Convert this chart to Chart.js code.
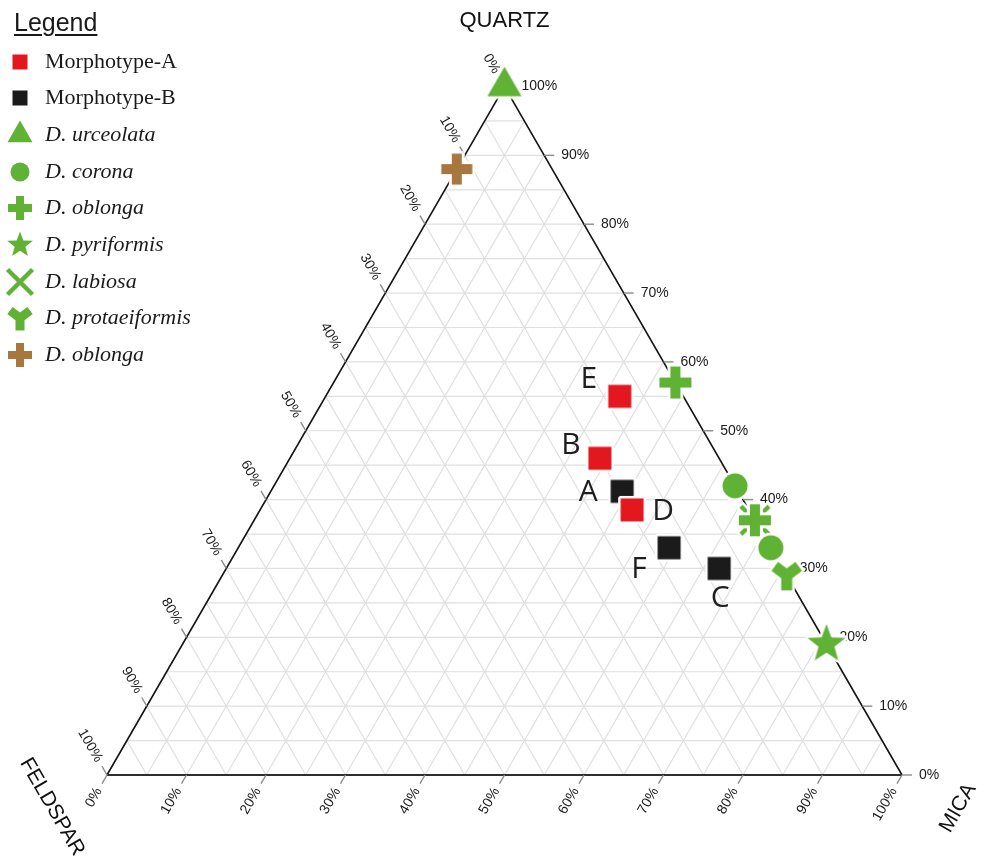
<!DOCTYPE html>
<html>
<head>
<meta charset="utf-8">
<title>Ternary diagram: quartz, feldspar, mica</title>
<script src="https://cdn.jsdelivr.net/npm/chart.js@4.4.1/dist/chart.umd.min.js"></script>
<style>
  html, body { margin: 0; padding: 0; background: #fff; }
  #wrap { position: relative; width: 987px; height: 865px; overflow: hidden; }
  #plot { position: absolute; left: 0; top: 0; }
  #legend { position: absolute; left: 0; top: 0; width: 260px; height: 380px; }
  .lg-title { position: absolute; left: 14px; top: 7px; font: 25px "Liberation Sans", Arial, sans-serif;
              line-height: 30px; text-decoration: underline; text-decoration-thickness: 2px;
              text-underline-offset: 3px; color: #1a1a1a; }
  .lg-item { position: absolute; left: 0; width: 260px; height: 30px; white-space: nowrap;
             font: 22px "Liberation Serif", "Times New Roman", serif; line-height: 30px; color: #1a1a1a; }
  .lg-item canvas { position: absolute; left: 1px; top: -3px; }
  .lg-item span { position: absolute; left: 45px; top: 0; }
  .lg-item span.it { font-style: italic; }
</style>
</head>
<body>
<div id="wrap">
  <canvas id="plot" width="987" height="865"></canvas>
  <div id="legend"></div>
</div>
<script>
// ---- Sample compositions (% quartz / feldspar / mica) ----
const morphoALabels   = ['E', 'B', 'D'];
const morphoAQuartz   = [55, 46, 38.5];
const morphoAFeldspar = [8, 15, 14.7];
const morphoAMica     = [37, 39, 46.8];

const morphoBLabels   = ['A', 'F', 'C'];
const morphoBQuartz   = [41.2, 33, 30];
const morphoBFeldspar = [14.6, 12.8, 8];
const morphoBMica     = [44.2, 54.2, 62];

const urceolataQuartz = [100];   const urceolataFeldspar = [0];    const urceolataMica = [0];
const coronaQuartz    = [42, 33]; const coronaFeldspar   = [0, 0]; const coronaMica    = [58, 67];
const oblongaQuartz   = [57, 37]; const oblongaFeldspar  = [0, 0]; const oblongaMica   = [43, 63];
const pyriformisQuartz = [19];   const pyriformisFeldspar = [0];   const pyriformisMica = [81];
const labiosaQuartz   = [37];    const labiosaFeldspar   = [0];    const labiosaMica   = [63];
const protaeQuartz    = [29];    const protaeFeldspar    = [0];    const protaeMica    = [71];
const oblongaBrQuartz = [88];    const oblongaBrFeldspar = [12];   const oblongaBrMica = [0];

const axisTicks = [0, 10, 20, 30, 40, 50, 60, 70, 80, 90, 100];
const gridSteps = [5, 10, 15, 20, 25, 30, 35, 40, 45, 50, 55, 60, 65, 70, 75, 80, 85, 90, 95];

// ---- ternary -> cartesian (unit-side triangle) ----
const H = Math.sqrt(3) / 2;
function toXY(q, f, m) {
  const s = q + f + m;
  const Q = q / s, M = m / s;
  return { x: M + Q / 2, y: Q * H };
}
function points(qs, fs, ms) {
  return qs.map((q, i) => toXY(q, fs[i], ms[i]));
}

// ---- marker drawing ----
const GREEN = '#5fb233', RED = '#e3171e', BLACK = '#1b1b1b', BROWN = '#a8773f';

function paintMarker(ctx, spec, color, cx, cy) {
  ctx.save();
  ctx.translate(cx, cy);
  ctx.fillStyle = color;
  ctx.strokeStyle = color;
  const s = spec.size;
  switch (spec.shape) {
    case 'square': ctx.fillRect(-s / 2, -s / 2, s, s); break;
    case 'circle': ctx.beginPath(); ctx.arc(0, 0, s / 2, 0, Math.PI * 2); ctx.fill(); break;
    case 'triangle': {
      const h = s * H;
      ctx.beginPath(); ctx.moveTo(0, -2 * h / 3); ctx.lineTo(s / 2, h / 3); ctx.lineTo(-s / 2, h / 3);
      ctx.closePath(); ctx.fill(); break;
    }
    case 'plus': {
      const t = spec.thick;
      ctx.fillRect(-s / 2, -t / 2, s, t); ctx.fillRect(-t / 2, -s / 2, t, s); break;
    }
    case 'star': {
      const R = s / 2, r = R * 0.42;
      ctx.beginPath();
      for (let i = 0; i < 10; i++) {
        const a = -Math.PI / 2 + i * Math.PI / 5, rr = i % 2 ? r : R;
        ctx.lineTo(rr * Math.cos(a), rr * Math.sin(a));
      }
      ctx.closePath(); ctx.fill(); break;
    }
    case 'x': {
      const a = s / 2;
      ctx.lineWidth = spec.thick; ctx.lineCap = 'butt';
      ctx.beginPath(); ctx.moveTo(-a, -a); ctx.lineTo(a, a); ctx.moveTo(a, -a); ctx.lineTo(-a, a); ctx.stroke();
      break;
    }
    case 'y': {
      const k = s / 30;
      ctx.lineWidth = spec.thick; ctx.lineCap = 'butt'; ctx.lineJoin = 'miter';
      ctx.beginPath(); ctx.moveTo(-12 * k, -9 * k); ctx.lineTo(0, 0); ctx.lineTo(12 * k, -9 * k);
      ctx.moveTo(0, 0); ctx.lineTo(0, 15 * k); ctx.stroke();
      break;
    }
  }
  ctx.restore();
}

function makeMarker(spec, color, outline, box) {
  const c = document.createElement('canvas');
  c.width = c.height = box;
  const g = c.getContext('2d');
  const mid = box / 2;
  if (outline) {
    for (let i = 0; i < 24; i++) {
      const a = i * Math.PI / 12;
      paintMarker(g, spec, '#ffffff', mid + outline * Math.cos(a), mid + outline * Math.sin(a));
    }
  }
  paintMarker(g, spec, color, mid, mid);
  return c;
}

// marker specs for the plot and the (smaller) legend icons
const series = [
  { label: 'Morphotype-A',     italic: false, color: RED,   data: points(morphoAQuartz, morphoAFeldspar, morphoAMica), names: morphoALabels,
    mark: { shape: 'square', size: 23 },            icon: { shape: 'square', size: 15 } },
  { label: 'Morphotype-B',     italic: false, color: BLACK, data: points(morphoBQuartz, morphoBFeldspar, morphoBMica), names: morphoBLabels,
    mark: { shape: 'square', size: 23 },            icon: { shape: 'square', size: 15 } },
  { label: 'D. urceolata',     italic: true,  color: GREEN, data: points(urceolataQuartz, urceolataFeldspar, urceolataMica),
    mark: { shape: 'triangle', size: 34 },          icon: { shape: 'triangle', size: 25 } },
  { label: 'D. corona',        italic: true,  color: GREEN, data: points(coronaQuartz, coronaFeldspar, coronaMica),
    mark: { shape: 'circle', size: 25 },            icon: { shape: 'circle', size: 19 } },
  { label: 'D. oblonga',       italic: true,  color: GREEN, data: points(oblongaQuartz, oblongaFeldspar, oblongaMica),
    mark: { shape: 'plus', size: 32, thick: 10 },   icon: { shape: 'plus', size: 24, thick: 8 } },
  { label: 'D. pyriformis',    italic: true,  color: GREEN, data: points(pyriformisQuartz, pyriformisFeldspar, pyriformisMica),
    mark: { shape: 'star', size: 40 },              icon: { shape: 'star', size: 27 } },
  { label: 'D. labiosa',       italic: true,  color: GREEN, data: points(labiosaQuartz, labiosaFeldspar, labiosaMica),
    mark: { shape: 'x', size: 28, thick: 4.5 },     icon: { shape: 'x', size: 25, thick: 4.5 } },
  { label: 'D. protaeiformis', italic: true,  color: GREEN, data: points(protaeQuartz, protaeFeldspar, protaeMica),
    mark: { shape: 'y', size: 30, thick: 11 },      icon: { shape: 'y', size: 25, thick: 9 } },
  { label: 'D. oblonga',       italic: true,  color: BROWN, data: points(oblongaBrQuartz, oblongaBrFeldspar, oblongaBrMica),
    mark: { shape: 'plus', size: 31, thick: 10 },   icon: { shape: 'plus', size: 24, thick: 8 } }
];

// where the sample letters sit relative to their square
const letterOffsets = { E: [-31, -19], B: [-29, -15], A: [-34, -1], D: [31, -1], F: [-30, 19], C: [1, 28] };

// ---- plugin: ternary grid, frame, ticks, titles ----
const SANS = '"Liberation Sans", Arial, Helvetica, sans-serif';
const ternaryFrame = {
  id: 'ternaryFrame',
  beforeDatasetsDraw(chart) {
    const ctx = chart.ctx, xs = chart.scales.x, ys = chart.scales.y;
    const P = (q, f, m) => { const c = toXY(q, f, m); return [xs.getPixelForValue(c.x), ys.getPixelForValue(c.y)]; };
    const T = P(100, 0, 0), L = P(0, 100, 0), R = P(0, 0, 100);
    ctx.save();

    // grid every 5 %
    ctx.strokeStyle = '#e0e0e0';
    ctx.lineWidth = 1.2;
    ctx.beginPath();
    gridSteps.forEach(k => {
      let a = P(k, 100 - k, 0), b = P(k, 0, 100 - k);
      ctx.moveTo(a[0], a[1]); ctx.lineTo(b[0], b[1]);
      a = P(0, 100 - k, k); b = P(100 - k, 0, k);
      ctx.moveTo(a[0], a[1]); ctx.lineTo(b[0], b[1]);
      a = P(0, k, 100 - k); b = P(100 - k, k, 0);
      ctx.moveTo(a[0], a[1]); ctx.lineTo(b[0], b[1]);
    });
    ctx.stroke();

    // triangle frame
    ctx.strokeStyle = '#151515';
    ctx.lineWidth = 1.6;
    ctx.beginPath(); ctx.moveTo(L[0], L[1]); ctx.lineTo(T[0], T[1]); ctx.lineTo(R[0], R[1]); ctx.stroke();
    ctx.strokeStyle = '#2e2e2e';
    ctx.lineWidth = 2.2;
    ctx.beginPath(); ctx.moveTo(L[0], L[1]); ctx.lineTo(R[0], R[1]); ctx.stroke();

    // tick directions (pixel space)
    const unit = (a, b) => { const dx = b[0] - a[0], dy = b[1] - a[1], n = Math.hypot(dx, dy); return [dx / n, dy / n]; };
    const dirMica = unit(T, L);       // along left edge, downward
    const dirFeld = unit(R, T);       // along right edge, upward
    const dirQuartz = [1, 0];
    const tickLen = 10;

    ctx.strokeStyle = '#8c8c8c';
    ctx.lineWidth = 1.4;
    ctx.fillStyle = '#1a1a1a';
    ctx.font = '14px ' + SANS;
    ctx.textBaseline = 'middle';

    axisTicks.forEach(v => {
      // quartz (right edge)
      let p = P(v, 0, 100 - v);
      ctx.beginPath(); ctx.moveTo(p[0], p[1]); ctx.lineTo(p[0] + dirQuartz[0] * tickLen, p[1]); ctx.stroke();
      ctx.textAlign = 'left';
      ctx.fillText(v + '%', p[0] + 17, p[1]);

      // mica (bottom edge)
      p = P(0, 100 - v, v);
      ctx.beginPath(); ctx.moveTo(p[0], p[1]); ctx.lineTo(p[0] + dirMica[0] * tickLen, p[1] + dirMica[1] * tickLen); ctx.stroke();
      ctx.save();
      ctx.translate(p[0] + dirMica[0] * 16, p[1] + dirMica[1] * 16);
      ctx.rotate(-Math.PI / 3);
      ctx.textAlign = 'right';
      ctx.fillText(v + '%', 0, 0);
      ctx.restore();

      // feldspar (left edge)
      p = P(100 - v, v, 0);
      ctx.beginPath(); ctx.moveTo(p[0], p[1]); ctx.lineTo(p[0] + dirFeld[0] * tickLen, p[1] + dirFeld[1] * tickLen); ctx.stroke();
      ctx.save();
      ctx.translate(p[0] + dirFeld[0] * 16, p[1] + dirFeld[1] * 16);
      ctx.rotate(Math.PI / 3);
      ctx.textAlign = 'right';
      ctx.fillText(v + '%', 0, 0);
      ctx.restore();
    });

    // axis titles
    ctx.fillStyle = '#111';
    ctx.font = '22px ' + SANS;
    ctx.textAlign = 'center';
    ctx.textBaseline = 'alphabetic';
    ctx.fillText('QUARTZ', T[0], T[1] - 60);

    ctx.font = '21px ' + SANS;
    ctx.textBaseline = 'middle';
    ctx.save();
    ctx.translate(L[0] - 55, L[1] + 32);
    ctx.rotate(Math.PI / 3);
    ctx.fillText('FELDSPAR', 0, 0);
    ctx.restore();

    ctx.save();
    ctx.translate(R[0] + 56, R[1] + 33);
    ctx.rotate(-Math.PI / 3);
    ctx.fillText('MICA', 0, 0);
    ctx.restore();

    ctx.restore();
  },
  afterDatasetsDraw(chart) {
    // sample letters beside the morphotype squares
    const ctx = chart.ctx;
    ctx.save();
    ctx.fillStyle = '#1e1e1e';
    ctx.font = '30px "Open Sans", "Liberation Sans", sans-serif';
    ctx.textAlign = 'center';
    ctx.textBaseline = 'alphabetic';
    chart.data.datasets.forEach((ds, di) => {
      if (!ds.names) return;
      const meta = chart.getDatasetMeta(di);
      meta.data.forEach((pt, i) => {
        const name = ds.names[i];
        const off = letterOffsets[name] || [0, 0];
        ctx.fillText(name, pt.x + off[0], pt.y + off[1] + 11);
      });
    });
    ctx.restore();
  }
};

// ---- chart ----
const datasets = series.map(s => ({
  label: s.label,
  names: s.names,
  data: s.data,
  pointStyle: makeMarker(s.mark, s.color, 2.5, 64),
  pointRadius: 12,
  pointHoverRadius: 12,
  backgroundColor: s.color,
  borderColor: s.color,
  showLine: false,
  clip: false
}));

new Chart(document.getElementById('plot'), {
  type: 'scatter',
  data: { datasets },
  options: {
    responsive: false,
    animation: false,
    devicePixelRatio: 1,
    layout: { padding: { left: 107, right: 85, top: 86.5, bottom: 90 } },
    scales: {
      x: { type: 'linear', min: 0, max: 1, display: false },
      y: { type: 'linear', min: 0, max: H, display: false }
    },
    plugins: { legend: { display: false }, tooltip: { enabled: false } },
    events: []
  },
  plugins: [ternaryFrame]
});

// ---- legend ----
const legend = document.getElementById('legend');
const title = document.createElement('div');
title.className = 'lg-title';
title.textContent = 'Legend';
legend.appendChild(title);
series.forEach((s, i) => {
  const row = document.createElement('div');
  row.className = 'lg-item';
  row.style.top = (45.5 + 36.7 * i) + 'px';
  const icon = makeMarker(s.icon, s.color, 0, 38);
  const txt = document.createElement('span');
  txt.textContent = s.label;
  if (s.italic) txt.className = 'it';
  row.appendChild(icon);
  row.appendChild(txt);
  legend.appendChild(row);
});
</script>
</body>
</html>
